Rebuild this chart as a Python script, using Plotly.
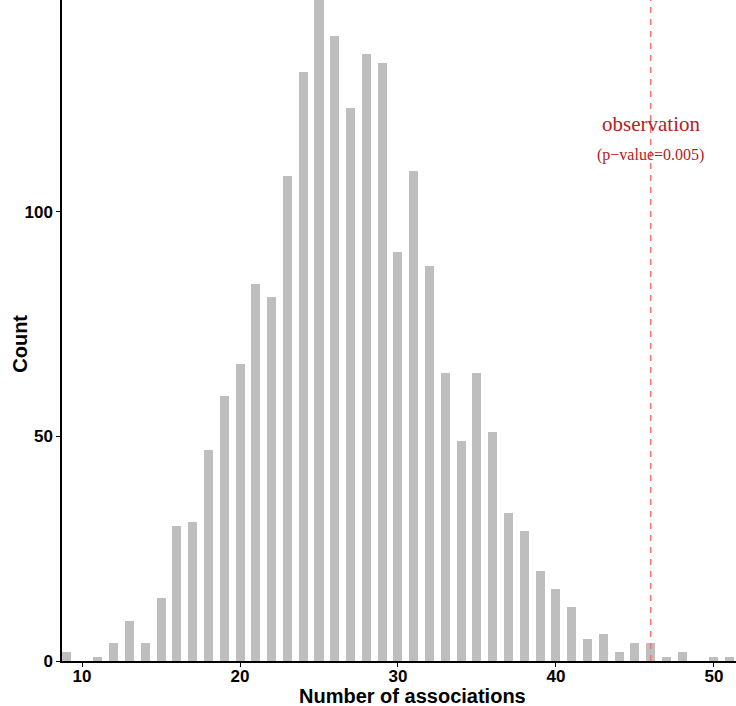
import plotly.graph_objects as go

associations = list(range(9, 52))
counts = [2, 0, 1, 4, 9, 4, 14, 30, 31, 47, 59, 66, 84, 81, 108, 131, 147, 139, 123, 135,
          133, 91, 109, 88, 64, 49, 64, 51, 33, 29, 20, 16, 12, 5, 6, 2, 4, 4, 1, 2, 0, 1, 1]
observed = 46
obs_label = "observation"
p_label = "(p\u2212value=0.005)"
x_ticks = [10, 20, 30, 40, 50]
y_ticks = [0, 50, 100]

fig = go.Figure()
fig.add_trace(go.Bar(x=associations, y=counts, width=0.57,
                     marker=dict(color="#BEBEBE", line=dict(width=0)),
                     showlegend=False, hoverinfo="x+y", cliponaxis=True))

fig.add_shape(type="line", x0=observed, x1=observed, y0=0, y1=1, yref="paper", xref="x",
              line=dict(color="#F8766D", width=1.6, dash="6px,6px"), layer="above")

fig.add_annotation(x=observed, y=119.6, text=obs_label, showarrow=False,
                   font=dict(family="Liberation Serif", size=21, color="#B22222"))
fig.add_annotation(x=observed, y=112.7, text=p_label, showarrow=False,
                   font=dict(family="Liberation Serif", size=16, color="#B22222"))

tick_font = dict(family="Liberation Sans", size=17, color="black", weight="bold")
title_font = dict(family="Liberation Sans", size=20, color="black", weight="bold")

fig.add_annotation(xref="paper", yref="paper", x=0.52, y=-35/661, yanchor="middle",
                   borderpad=0,
                   text="Number of associations", showarrow=False, font=title_font)
fig.add_annotation(xref="paper", yref="paper", x=-42/674, y=0.48, xanchor="center",
                   yanchor="middle", textangle=-90,
                   text="Count", showarrow=False, font=title_font)

fig.update_layout(
    width=736, height=706,
    margin=dict(l=62, r=0, t=0, b=45, autoexpand=False),
    plot_bgcolor="white", paper_bgcolor="white",
    bargap=0,
    xaxis=dict(range=[8.73, 51.4], tickvals=x_ticks, showgrid=False, zeroline=False,
               showline=True, linecolor="black", linewidth=1.5, automargin=False,
               ticks="outside", ticklen=4, tickwidth=1.2, tickcolor="black",
               tickfont=tick_font, ticklabelstandoff=-5),
    yaxis=dict(range=[0, 147.1], tickvals=y_ticks, showgrid=False, zeroline=False,
               showline=True, linecolor="black", linewidth=1.5, automargin=False,
               ticks="outside", ticklen=4, tickwidth=1.2, tickcolor="black",
               tickfont=tick_font),
)

fig.write_html("out.html", config={"displayModeBar": False},
               post_script="document.body.style.margin='0';document.body.style.overflow='hidden';")
